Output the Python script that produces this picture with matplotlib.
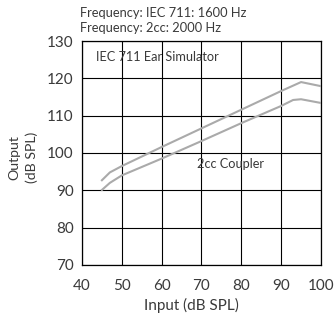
import matplotlib
matplotlib.use("Agg")
import matplotlib.pyplot as plt

# values
input_ear = [45, 47, 50, 60, 70, 80, 90, 95, 100]
output_ear = [92.7, 94.8, 96.5, 101.6, 106.6, 111.6, 116.6, 119.0, 117.9]
input_cpl = [45, 47, 50, 60, 70, 80, 90, 93, 95, 100]
output_cpl = [90.1, 92.0, 94.0, 98.5, 103.2, 108.0, 112.6, 114.2, 114.4, 113.4]
x_ticks = [40, 50, 60, 70, 80, 90, 100]
y_ticks = [70, 80, 90, 100, 110, 120, 130]

plt.rcParams['font.family'] = ['Lato', 'DejaVu Sans']
txt = '#3a3a3a'

fig = plt.figure(figsize=(3.34, 3.13), dpi=100)
ax = fig.add_axes([0.2455, 0.1534, 0.7155, 0.7156])

ax.plot(input_ear, output_ear, color='#aaaaaa', lw=1.5, zorder=3)
ax.plot(input_cpl, output_cpl, color='#aaaaaa', lw=1.5, zorder=3)

ax.set_xlim(40, 100)
ax.set_ylim(70, 130)
ax.set_xticks(x_ticks)
ax.set_yticks(y_ticks)
ax.grid(True, color='black', lw=0.8, zorder=1)
ax.set_axisbelow(True)
for s in ax.spines.values():
    s.set_linewidth(0.9)
ax.tick_params(axis='x', length=0, labelsize=11, pad=10, colors=txt)
ax.tick_params(axis='y', length=0, labelsize=11, pad=6, colors=txt)

ax.text(43.5, 125.8, 'IEC 711 Ear Simulator', fontsize=9.2, va='center', ha='left', color=txt)
ax.text(68.9, 97.0, '2cc Coupler', fontsize=9.2, va='center', ha='left', color=txt)

fig.text(0.24, 0.958, 'Frequency: IEC 711: 1600 Hz', fontsize=9.3, va='center', ha='left', color=txt)
fig.text(0.24, 0.91, 'Frequency: 2cc: 2000 Hz', fontsize=9.3, va='center', ha='left', color=txt)

ax.set_xlabel('Input (dB SPL)', fontsize=11, color=txt)
ax.xaxis.set_label_coords(0.46, -0.145)
ax.set_ylabel('Output\n(dB SPL)', fontsize=10.2, color=txt, linespacing=1.45)
ax.yaxis.set_label_coords(-0.185, 0.48)

fig.savefig('out.png', dpi=100)
